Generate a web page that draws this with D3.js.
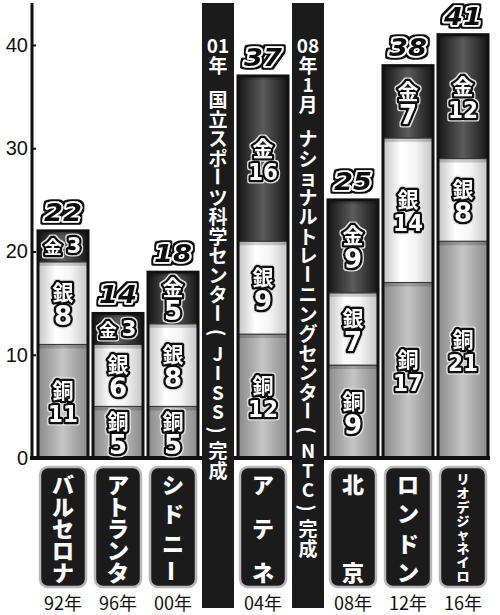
<!DOCTYPE html>
<html>
<head>
<meta charset="utf-8">
<script src="https://cdn.jsdelivr.net/npm/d3@7"></script>
<style>
    body { margin: 0; background: #fff; }
    svg { display: block; }
</style>
</head>
<body>
<svg id="chart" width="500" height="615"></svg>
<script>
// medal data
var games = ["92年", "96年", "00年", "04年", "08年", "12年", "16年"];
var cities = ["バルセロナ", "アトランタ", "シドニー", "アテネ", "北京", "ロンドン", "リオデジャネイロ"];
var gold = [3, 3, 5, 16, 9, 7, 12];
var silver = [8, 6, 8, 9, 7, 14, 8];
var bronze = [11, 5, 5, 12, 9, 17, 21];
var totals = [22, 14, 18, 37, 25, 38, 41];
var yTicks = [0, 10, 20, 30, 40];
var medalKeys = ["bronze", "silver", "gold"];
var medalNames = ["銅", "銀", "金"];
// the two black banners sit right after these games
var bannerAfter = ["00年", "04年"];
var bannerTexts = ["01年 国立スポーツ科学センター(JISS)完成",
                   "08年1月 ナショナルトレーニングセンター(NTC)完成"];

var svg = d3.select("#chart"),
    jpFont = "'Noto Sans CJK JP', 'Noto Sans', sans-serif",
    numFont = "'DejaVu Sans', 'Liberation Sans', sans-serif",
    bannerGap = 35,
    bannerW = 32;

var y = d3.scaleLinear().domain([0, 40]).range([458, 45]);
var band = d3.scaleBand().domain(games)
    .range([35.5, 35.5 + 385]).paddingInner(5 / 55).paddingOuter(2.5 / 55);

// shift every game that comes after a banner
var x = function (g) {
    var i = games.indexOf(g),
        n = bannerAfter.filter(function (b) { return games.indexOf(b) < i; }).length;
    return band(g) + n * bannerGap;
};

// gradients for the "cylinder" look
var defs = svg.append("defs");
var grads = {
    gold: [["0%", "#161616"], ["50%", "#5c5c5c"], ["100%", "#161616"]],
    silver: [["0%", "#c4c4c4"], ["35%", "#ffffff"], ["65%", "#f4f4f4"], ["100%", "#c4c4c4"]],
    bronze: [["0%", "#8a8a8a"], ["50%", "#c6c6c6"], ["100%", "#8a8a8a"]]
};
Object.keys(grads).forEach(function (k) {
    var g = defs.append("linearGradient").attr("id", "g-" + k)
        .attr("x1", "0%").attr("x2", "100%").attr("y1", "0%").attr("y2", "0%");
    grads[k].forEach(function (s) {
        g.append("stop").attr("offset", s[0]).attr("stop-color", s[1]);
    });
});

// outer outline filters
var addHalo = function (id, color, r) {
    var f = defs.append("filter").attr("id", id)
        .attr("x", "-30%").attr("y", "-30%").attr("width", "160%").attr("height", "160%");
    f.append("feMorphology").attr("in", "SourceAlpha").attr("operator", "dilate")
        .attr("radius", r).attr("result", "grow");
    f.append("feFlood").attr("flood-color", color).attr("result", "col");
    f.append("feComposite").attr("in", "col").attr("in2", "grow").attr("operator", "in")
        .attr("result", "ring");
    var m = f.append("feMerge");
    m.append("feMergeNode").attr("in", "ring");
    m.append("feMergeNode").attr("in", "SourceGraphic");
};
addHalo("halo-light", "#e6e6e6", 1.3);
addHalo("halo-dark", "#111", 2);

// axis
var axis = svg.append("g").attr("transform", "translate(32,0)")
    .call(d3.axisLeft(y).tickValues(yTicks).tickSize(-4).tickPadding(4));
axis.select(".domain").remove();
axis.selectAll(".tick line").attr("stroke", "#111").attr("stroke-width", 2);
axis.selectAll(".tick text").attr("font-family", "'Liberation Sans', Arial, sans-serif")
    .attr("font-size", 20).attr("fill", "#111");
svg.append("line").attr("x1", 32).attr("x2", 32).attr("y1", 3).attr("y2", y(0))
    .attr("stroke", "#111").attr("stroke-width", 3);

// stacked bars
var rows = games.map(function (g, i) {
    return {game: g, bronze: bronze[i], silver: silver[i], gold: gold[i]};
});
var stacked = d3.stack().keys(medalKeys)(rows);

var bars = svg.append("g");
stacked.forEach(function (layer) {
    bars.selectAll(null).data(layer).enter().append("rect")
        .attr("x", function (d) { return x(d.data.game); })
        .attr("width", band.bandwidth())
        .attr("y", function (d) { return y(d[1]); })
        .attr("height", function (d) { return y(d[0]) - y(d[1]); })
        .attr("fill", "url(#g-" + layer.key + ")")
        .attr("stroke", "#333").attr("stroke-width", 1);
    // thin shadow at the top of each segment
    bars.selectAll(null).data(layer).enter().append("rect")
        .attr("x", function (d) { return x(d.data.game); })
        .attr("width", band.bandwidth())
        .attr("y", function (d) { return y(d[1]); })
        .attr("height", 4)
        .attr("fill", "#000").attr("opacity", 0.18);
});
bars.selectAll(".frame").data(rows).enter().append("rect")
    .attr("class", "frame")
    .attr("x", function (d) { return x(d.game); })
    .attr("width", band.bandwidth())
    .attr("y", function (d, i) { return y(totals[i]); })
    .attr("height", function (d, i) { return y(0) - y(totals[i]); })
    .attr("fill", "none").attr("stroke", "#111").attr("stroke-width", 3);

// baseline
svg.append("line").attr("x1", 30).attr("x2", 490).attr("y1", y(0)).attr("y2", y(0))
    .attr("stroke", "#111").attr("stroke-width", 4);

// segment labels: one outlined text per segment, medal name + count as tspans
var labels = svg.append("g");
stacked.forEach(function (layer, li) {
    layer.forEach(function (d) {
        var v = d[1] - d[0],
            cx = x(d.data.game) + band.bandwidth() / 2,
            mid = (y(d[0]) + y(d[1])) / 2,
            t = labels.append("text")
                .attr("text-anchor", "middle").attr("dominant-baseline", "central")
                .attr("font-weight", "bold")
                .attr("stroke", "#111").attr("stroke-width", 5)
                .attr("stroke-linejoin", "round")
                .attr("fill", "#fff").attr("paint-order", "stroke")
                .attr("filter", "url(#halo-light)");
        if (v >= 4) {
            t.append("tspan").attr("x", cx).attr("y", mid - 12)
                .attr("font-family", jpFont).attr("font-size", 21)
                .text(medalNames[li]);
            var n = t.append("tspan").attr("x", cx).attr("y", mid + 13)
                .attr("font-family", numFont)
                .attr("font-size", v >= 10 ? 23 : 26)
                .text(String(v));
            if (v >= 10) { n.attr("textLength", 30).attr("lengthAdjust", "spacingAndGlyphs"); }
        } else {
            t.append("tspan").attr("x", cx - 10).attr("y", mid)
                .attr("font-family", jpFont).attr("font-size", 18)
                .text(medalNames[li]);
            t.append("tspan").attr("x", cx + 11).attr("y", mid)
                .attr("font-family", numFont).attr("font-size", 21)
                .text(String(v));
        }
    });
});

// totals above the bars
svg.append("g").selectAll("text").data(games).enter().append("text")
    .attr("x", function (g) { return x(g) + band.bandwidth() / 2; })
    .attr("y", function (g, i) { return y(totals[i]) - 10; })
    .attr("text-anchor", "middle")
    .attr("font-family", numFont).attr("font-weight", "bold")
    .attr("font-style", "italic").attr("font-size", 25)
    .attr("textLength", 38).attr("lengthAdjust", "spacingAndGlyphs")
    .attr("stroke", "#fff").attr("stroke-width", 3.5)
    .attr("stroke-linejoin", "round").attr("paint-order", "stroke")
    .attr("fill", "#111")
    .attr("filter", "url(#halo-dark)")
    .text(function (g, i) { return totals[i]; });

// vertical glyph helper: long vowel and brackets turn 90 degrees
var vGlyph = function (g, ch, cx, cy, size, weight) {
    var rot = (ch === "ー" || ch === "(" || ch === ")");
    g.append("text").attr("x", cx).attr("y", cy)
        .attr("text-anchor", "middle").attr("dominant-baseline", "central")
        .attr("font-family", jpFont).attr("font-weight", weight)
        .attr("font-size", size).attr("fill", "#fff")
        .attr("transform", rot ? "rotate(90," + cx + "," + cy + ")" : null)
        .text(ch);
};

// black banners with vertical text
var banners = svg.append("g");
bannerAfter.forEach(function (b, bi) {
    var bx = x(b) + band.bandwidth() + (bannerGap + 5 - bannerW) / 2,
        tokens = bannerTexts[bi].match(/\d{2}|./g),
        cy = 44.5;
    banners.append("rect").attr("x", bx).attr("y", 3)
        .attr("width", bannerW).attr("height", 605).attr("fill", "#1b1b1b");
    tokens.forEach(function (t, i) {
        if (i > 0) { cy += (t === " ") ? 15 : 19.5; }
        if (t === " ") { return; }
        vGlyph(banners, t, bx + bannerW / 2, cy, 19, "bold");
    });
});

// city name boxes
var names = svg.append("g");
games.forEach(function (g, i) {
    var bx = x(g) + 2,
        bw = band.bandwidth() - 4,
        top = 467,
        bottom = 587,
        chars = Array.from(cities[i]),
        fs = chars.length > 6 ? 13 : 22,
        first = top + 5 + fs / 2,
        last = bottom - 5 - fs / 2,
        step = (last - first) / (chars.length - 1);
    names.append("rect").attr("x", bx).attr("y", top)
        .attr("width", bw).attr("height", bottom - top).attr("rx", 8)
        .attr("fill", "#1b1b1b").attr("stroke", "#b8b8b8").attr("stroke-width", 2.5);
    chars.forEach(function (c, k) {
        vGlyph(names, c, bx + bw / 2, first + k * step, fs, 900);
    });
    names.append("text").attr("x", bx + bw / 2).attr("y", 610)
        .attr("text-anchor", "middle").attr("font-family", jpFont)
        .attr("font-size", 18).attr("fill", "#111")
        .text(g);
});
</script>
</body>
</html>
